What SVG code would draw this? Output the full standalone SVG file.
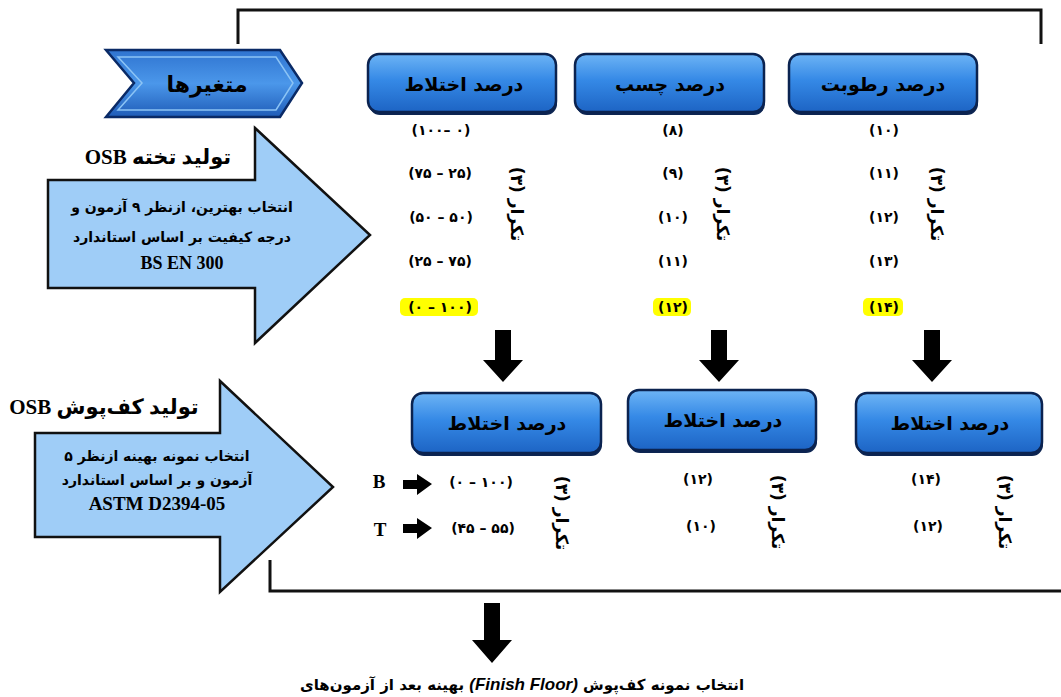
<svg xmlns="http://www.w3.org/2000/svg" width="1061" height="697" viewBox="0 0 1061 697">
<defs>
<linearGradient id="boxg" x1="0" y1="0" x2="0" y2="1">
<stop offset="0" stop-color="#6db4f5"/>
<stop offset="0.45" stop-color="#3589e6"/>
<stop offset="1" stop-color="#1d64c4"/>
</linearGradient>
<linearGradient id="chevg" x1="0" y1="0" x2="0" y2="1">
<stop offset="0" stop-color="#2f74d0"/>
<stop offset="0.5" stop-color="#4b97ea"/>
<stop offset="1" stop-color="#1f5cb8"/>
</linearGradient>
<style>
.bk{fill:none;stroke:#111;stroke-width:3}
.big{fill:#9fcdf7;stroke:#111;stroke-width:2.5;stroke-linejoin:miter}
.box{fill:url(#boxg);stroke:#0b2350;stroke-width:2.5}
.shd{fill:#0d2552}
.blk{fill:#000}
.t{font-family:"Liberation Serif","DejaVu Sans",serif;font-weight:bold;fill:#000}
.fa{font-family:"DejaVu Sans",sans-serif;font-weight:bold;fill:#000}
.rtl{direction:rtl;unicode-bidi:embed}
.num{font-family:"DejaVu Sans",sans-serif;font-weight:bold;font-size:14px;fill:#000;text-anchor:middle;letter-spacing:2.5px}
.rot{font-family:"DejaVu Sans",sans-serif;font-weight:bold;font-size:17px;fill:#000;text-anchor:middle}
.bt{font-family:"DejaVu Sans",sans-serif;font-weight:bold;font-size:19px;fill:#000;text-anchor:middle}
.hl{fill:#ffff00}
</style>
</defs>
<rect width="1061" height="697" fill="#fff"/>

<g id="connectors">
<path class="bk" d="M238,44 V10 H1041 V44"/>
<path class="bk" d="M270,560 V591 H1061"/>
<polygon class="blk" points="495,330 511,330 511,360 523,360 503,382 483,360 495,360"/>
<polygon class="blk" points="711,330 727,330 727,360 739,360 719,382 699,360 711,360"/>
<polygon class="blk" points="924,330 940,330 940,360 952,360 932,382 912,360 924,360"/>
<polygon class="blk" points="484,603 500,603 500,640 512,640 492,663 472,640 484,640"/>
<polygon class="blk" points="403,480 417,480 417,474 432,484 417,495 417,489 403,489"/>
<polygon class="blk" points="403,524 417,524 417,518 432,528 417,539 417,533 403,533"/>
</g>

<g id="node-variables">
<polygon points="106,50 280,50 302,83 280,117 106,117 134,83" fill="url(#chevg)" stroke="#0a2a66" stroke-width="2.5"/>
<polygon points="118,57 276,57 293,83 276,110 118,110 142,83" fill="none" stroke="#8cc4f5" stroke-width="1.5"/>
<text class="fa rtl" x="207" y="92" font-size="22" text-anchor="middle">متغیرها</text>
</g>

<g id="node-osb-board">
<polygon class="big" points="48,180 255,180 255,128 370,235 255,343 255,288 48,288"/>
<text class="t rtl" x="158" y="164" font-size="21" text-anchor="middle">تولید تخته OSB</text>
<text class="fa rtl" x="182" y="212" font-size="14" text-anchor="middle">انتخاب بهترین، ازنظر ۹ آزمون و</text>
<text class="fa rtl" x="182" y="242" font-size="14" text-anchor="middle">درجه کیفیت بر اساس استاندارد</text>
<text class="t" x="182" y="269" font-size="18" text-anchor="middle">BS EN 300</text>
</g>

<g id="node-osb-floor">
<polygon class="big" points="35,433 220,433 220,381 333,487 220,592 220,537 35,537"/>
<text class="t rtl" x="104" y="414" font-size="21" text-anchor="middle">تولید کف‌پوش OSB</text>
<text class="fa rtl" x="157" y="461" font-size="14" text-anchor="middle">انتخاب نمونه بهینه ازنظر ۵</text>
<text class="fa rtl" x="157" y="485" font-size="14" text-anchor="middle">آزمون و بر اساس استاندارد</text>
<text class="t" x="157" y="510" font-size="19" text-anchor="middle">ASTM D2394-05</text>
</g>

<g id="node-mix-top">
<rect class="shd" x="369" y="57" width="188" height="58" rx="11"/>
<rect class="box" x="368" y="54" width="188" height="58" rx="11"/>
<text class="bt rtl" x="464" y="91">درصد اختلاط</text>
</g>
<g id="node-glue-top">
<rect class="shd" x="576" y="57" width="189" height="58" rx="11"/>
<rect class="box" x="575" y="54" width="189" height="58" rx="11"/>
<text class="bt rtl" x="670" y="91">درصد چسب</text>
</g>
<g id="node-moisture-top">
<rect class="shd" x="790" y="57" width="188" height="58" rx="11"/>
<rect class="box" x="789" y="54" width="188" height="58" rx="11"/>
<text class="bt rtl" x="883" y="91">درصد رطوبت</text>
</g>

<g id="values-mix">
<rect class="hl" x="400" y="298" width="78" height="18" rx="5"/>
<text class="num" x="441" y="135">(۱۰۰– ۰)</text>
<text class="num" x="440" y="178">(۷۵ – ۲۵)</text>
<text class="num" x="441" y="222">(۵۰ – ۵۰)</text>
<text class="num" x="440" y="266">(۲۵ – ۷۵)</text>
<text class="num" x="440" y="312">(۰ – ۱۰۰)</text>
<text class="rot rtl" transform="translate(517,204) rotate(90)" y="6">تکرار (۳)</text>
</g>
<g id="values-glue">
<rect class="hl" x="653" y="298" width="38" height="18" rx="5"/>
<text class="num" x="673" y="135">(۸)</text>
<text class="num" x="673" y="178">(۹)</text>
<text class="num" x="673" y="222">(۱۰)</text>
<text class="num" x="673" y="266">(۱۱)</text>
<text class="num" x="673" y="312">(۱۲)</text>
<text class="rot rtl" transform="translate(723,204) rotate(90)" y="6">تکرار (۳)</text>
</g>
<g id="values-moisture">
<rect class="hl" x="863" y="298" width="40" height="18" rx="5"/>
<text class="num" x="884" y="135">(۱۰)</text>
<text class="num" x="884" y="178">(۱۱)</text>
<text class="num" x="884" y="222">(۱۲)</text>
<text class="num" x="884" y="266">(۱۳)</text>
<text class="num" x="884" y="312">(۱۴)</text>
<text class="rot rtl" transform="translate(937,204) rotate(90)" y="6">تکرار (۳)</text>
</g>

<g id="node-mix-a">
<rect class="shd" x="413" y="396" width="189" height="60" rx="11"/>
<rect class="box" x="412" y="393" width="189" height="60" rx="11"/>
<text class="bt rtl" x="507" y="430">درصد اختلاط</text>
</g>
<g id="node-mix-b">
<rect class="shd" x="629" y="393" width="188" height="60" rx="11"/>
<rect class="box" x="628" y="390" width="188" height="60" rx="11"/>
<text class="bt rtl" x="723" y="427">درصد اختلاط</text>
</g>
<g id="node-mix-c">
<rect class="shd" x="857" y="396" width="186" height="60" rx="11"/>
<rect class="box" x="856" y="393" width="186" height="60" rx="11"/>
<text class="bt rtl" x="950" y="430">درصد اختلاط</text>
</g>

<g id="values-bottom-a">
<text class="t" x="379" y="488" font-size="19" text-anchor="middle">B</text>
<text class="t" x="380" y="536" font-size="19" text-anchor="middle">T</text>
<text class="num" x="481" y="487">(۰ – ۱۰۰)</text>
<text class="num" x="483" y="533">(۴۵ – ۵۵)</text>
<text class="rot rtl" transform="translate(562,513) rotate(90)" y="6">تکرار (۳)</text>
</g>
<g id="values-bottom-b">
<text class="num" x="698" y="484">(۱۲)</text>
<text class="num" x="701" y="531">(۱۰)</text>
<text class="rot rtl" transform="translate(778,512) rotate(90)" y="6">تکرار (۳)</text>
</g>
<g id="values-bottom-c">
<text class="num" x="926" y="484">(۱۴)</text>
<text class="num" x="928" y="531">(۱۲)</text>
<text class="rot rtl" transform="translate(1005,512) rotate(90)" y="6">تکرار (۳)</text>
</g>

<g id="node-result">
<text class="fa rtl" x="522" y="690" font-size="15" text-anchor="middle">انتخاب نمونه کف‌پوش <tspan font-family="Liberation Sans, sans-serif" font-style="italic" font-size="17">(Finish Floor)</tspan> بهینه بعد از آزمون‌های</text>
</g>
</svg>
